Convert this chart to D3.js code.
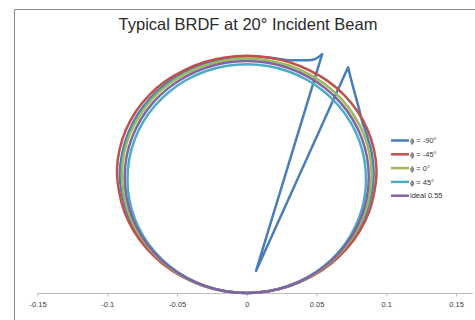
<!DOCTYPE html>
<html><head><meta charset="utf-8">
<script src="https://cdn.jsdelivr.net/npm/d3@7"></script>
<style>body{margin:0;background:#fff}svg{display:block}</style>
</head><body>
<script>
// Angles (degrees from the surface normal) and BRDF values (1/sr)
const angles = [-90,-85,-80,-75,-70,-65,-60,-55,-50,-45,-40,-35,-30,-25,-20,-15,-10,-5,0,5,10,15,20,25,30,35,40,45,50,55,60,65,70,75,80,85,90];
const redVals   = [0.184,0.184,0.185,0.186,0.187,0.187,0.187,0.187,0.186,0.186,0.185,0.184,0.183,0.182,0.181,0.180,0.1795,0.179,0.179,0.179,0.1795,0.180,0.181,0.182,0.183,0.184,0.185,0.186,0.186,0.187,0.187,0.187,0.187,0.186,0.185,0.184,0.184];
const greenVals = [0.178,0.178,0.179,0.179,0.179,0.179,0.179,0.179,0.179,0.179,0.1788,0.1785,0.178,0.1778,0.1775,0.1772,0.177,0.1768,0.1768,0.1768,0.177,0.1772,0.1775,0.1778,0.178,0.1785,0.1788,0.179,0.179,0.179,0.179,0.179,0.179,0.179,0.179,0.178,0.178];
const cyanVals  = [0.171,0.171,0.171,0.171,0.171,0.171,0.171,0.171,0.171,0.171,0.1712,0.1715,0.1718,0.172,0.1722,0.1724,0.1725,0.1725,0.1725,0.1725,0.1725,0.1724,0.1722,0.172,0.1718,0.1715,0.1712,0.171,0.171,0.171,0.171,0.171,0.171,0.171,0.171,0.171,0.171];
const idealVals = [0.175,0.175,0.175,0.175,0.175,0.175,0.175,0.175,0.175,0.175,0.175,0.175,0.175,0.175,0.175,0.175,0.175,0.175,0.175,0.175,0.175,0.175,0.175,0.175,0.175,0.175,0.175,0.175,0.175,0.175,0.175,0.175,0.175,0.175,0.175,0.175,0.175];
// phi = -90 series contains the specular spike and the beam-blocked dip
const blueAngles = [-90,-85,-80,-75,-70,-65,-60,-55,-50,-45,-40,-35,-30,-25,-20,-15,-10,-5,0,5,10,12,14,15.5,16.7,21.8,23.1,25.5,29.4,33,35,40,45,50,55,60,65,70,75,80,85,90];
const blueVals   = [0.181,0.181,0.182,0.182,0.182,0.182,0.182,0.182,0.182,0.182,0.181,0.1805,0.180,0.1795,0.179,0.1788,0.1785,0.1785,0.1785,0.179,0.181,0.1835,0.1865,0.190,0.1964,0.0193,0.2013,0.1943,0.1866,0.182,0.1815,0.1815,0.182,0.182,0.182,0.182,0.182,0.182,0.182,0.182,0.181,0.181];
const seriesNames = ["\u03D5 = -90\u00B0","\u03D5 = -45\u00B0","\u03D5 = 0\u00B0","\u03D5 = 45\u00B0","ideal 0.55"];
const seriesColors = ["#4A7EBB","#C0504D","#9BBB59","#4BACC6","#8064A2"];
const tickValues = [-0.15,-0.1,-0.05,0,0.05,0.1,0.15];
const tickLabels = ["-0.15","-0.1","-0.05","0","0.05","0.1","0.15"];
const titleText = "Typical BRDF at 20\u00B0 Incident Beam";

const W = 475, H = 320;
const svg = d3.select("body").append("svg").attr("width", W).attr("height", H);

// frame
svg.append("path").attr("d", `M14.5,${H} V9.5 H${W}`).attr("fill","none").attr("stroke","#8a8a8a").attr("stroke-width",1);

svg.append("text").attr("x", 248).attr("y", 29.5).attr("text-anchor","middle")
  .attr("font-family","Liberation Sans, Arial, sans-serif").attr("font-size",16.5).attr("fill","#2b2b2b")
  .text(titleText);

const x = d3.scaleLinear().domain([-0.15, 0.15]).range([37.5, 456]);
const y = d3.scaleLinear().domain([0, 0.175]).range([293, 61]);

// axis
const axisG = svg.append("g").attr("transform", "translate(0,293.5)");
axisG.append("line").attr("x1", x(-0.15)).attr("x2", x(0.162)).attr("stroke","#bdbdbd").attr("stroke-width",1);
const ax = d3.axisBottom(x).tickValues(tickValues).tickSize(3).tickSizeOuter(0)
  .tickFormat((d,i) => tickLabels[i]);
axisG.call(ax);
axisG.select(".domain").remove();
axisG.selectAll(".tick line").attr("stroke","#bdbdbd");
axisG.selectAll(".tick text").attr("y", 8).attr("dy","0.71em")
  .attr("font-family","Liberation Sans, Arial, sans-serif").attr("font-size",7.5).attr("fill","#3a3a3a");

function toPts(angs, vals) {
  return angs.map((a,i) => {
    const t = a * Math.PI / 180;
    const r = vals[i] * Math.cos(t);
    return [r * Math.sin(t), r * Math.cos(t)];
  });
}
const smooth = d3.line().x(d => x(d[0])).y(d => y(d[1])).curve(d3.curveCatmullRom.alpha(0.5));
const straight = d3.line().x(d => x(d[0])).y(d => y(d[1]));
const series = [
  {a: blueAngles, v: blueVals},
  {a: angles, v: redVals},
  {a: angles, v: greenVals},
  {a: angles, v: cyanVals},
  {a: angles, v: idealVals}
];
function pathFor(pts, i) {
  if (i !== 0) return smooth(pts);
  // blue: smooth circle parts, straight spike lines between the two peaks
  const p1 = blueAngles.indexOf(16.7), p2 = blueAngles.indexOf(23.1);
  const a = smooth(pts.slice(0, p1 + 1));
  const b = straight(pts.slice(p1, p2 + 1)).replace(/^M/, "L");
  const c = smooth(pts.slice(p2)).replace(/^M/, "L");
  return a + b + c;
}
series.forEach((s,i) => {
  svg.append("path").attr("d", pathFor(toPts(s.a, s.v), i)).attr("fill","none")
    .attr("stroke", seriesColors[i]).attr("stroke-width", 2.5).attr("stroke-linejoin","round");
});

// legend
const lg = svg.append("g");
seriesNames.forEach((n,i) => {
  const yy = 140.5 + i * 13.8;
  lg.append("line").attr("x1",391).attr("x2",409).attr("y1",yy).attr("y2",yy)
    .attr("stroke", seriesColors[i]).attr("stroke-width",2.5);
  lg.append("text").attr("x",410).attr("y",yy).attr("dy","0.35em")
    .attr("font-family","Liberation Sans, Arial, sans-serif").attr("font-size",7.5).attr("fill","#333").text(n);
});
</script>
</body></html>
